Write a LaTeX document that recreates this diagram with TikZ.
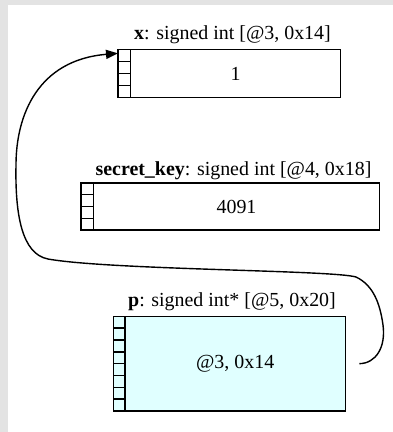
\documentclass[tikz,border=0pt]{standalone}
\usepackage{fontspec}
\setmainfont{Liberation Serif}
\usetikzlibrary{arrows.meta,calc}
\definecolor{pagegrey}{HTML}{E3E3E3}
\definecolor{ptrfill}{HTML}{E0FFFF}
\begin{document}
\begin{tikzpicture}[x=1bp,y=-1bp,
  every node/.style={font=\fontsize{20}{23}\selectfont},
  cell/.style={draw=black, line width=1.4bp, inner sep=0pt, outer sep=0pt, anchor=north west},
  valbox/.style={draw=black, line width=1.4bp, inner sep=0pt, outer sep=0pt, anchor=north west},
  varlabel/.style={anchor=base, inner sep=0pt},
  ptr/.style={line width=1.4bp, -{Triangle[length=12bp,width=9bp]}}]
  % page and margins
  \useasboundingbox (0,0) rectangle (393,432);
  \fill[pagegrey] (0,0) rectangle (393,432);
  \fill[white] (8,4.7) rectangle (393,432);

  % x : signed int
  \node[varlabel] (xlbl) at (232.5,39) {\textbf{x}: signed int [@3, 0x14]};
  \node[valbox, minimum width=210.4bp, minimum height=47.6bp] (xval) at (130.3,49.7) {1};
  \foreach \i in {1,...,4}
    \node[cell, minimum width=12.3bp, minimum height=11.9bp] (xc\i) at (118,{49.7+(\i-1)*11.9}) {};

  % secret_key : signed int
  \node[varlabel] (slbl) at (233.5,175) {\textbf{secret\_key}: signed int [@4, 0x18]};
  \node[valbox, minimum width=285.6bp, minimum height=47bp] (sval) at (93.7,183) {4091};
  \foreach \i in {1,...,4}
    \node[cell, minimum width=12.7bp, minimum height=11.75bp] (sc\i) at (81,{183+(\i-1)*11.75}) {};

  % p : signed int*
  \node[varlabel] (plbl) at (232,306.7) {\textbf{p}: signed int* [@5, 0x20]};
  \node[valbox, fill=ptrfill, minimum width=220.3bp, minimum height=94.7bp] (pval) at (125,316.3) {@3, 0x14};
  \foreach \i in {1,...,8}
    \node[cell, fill=ptrfill, minimum width=11.7bp, minimum height=11.84bp] (pc\i) at (113.3,{316.3+(\i-1)*11.84}) {};

  % pointer p -> x
  \draw[ptr] ($(pval.east)+(14,0)$)
    .. controls (376,363.5) and (386,347) .. (383,325)
    .. controls (380,303) and (373,285) .. (356,277)
    .. controls (333,270) and (110,270) .. (48,259)
    .. controls (22,254) and (15,215) .. (16,165)
    .. controls (16,115) and (38,60) .. ($(xc1.west)+(0,-2.3)$);
\end{tikzpicture}
\end{document}
